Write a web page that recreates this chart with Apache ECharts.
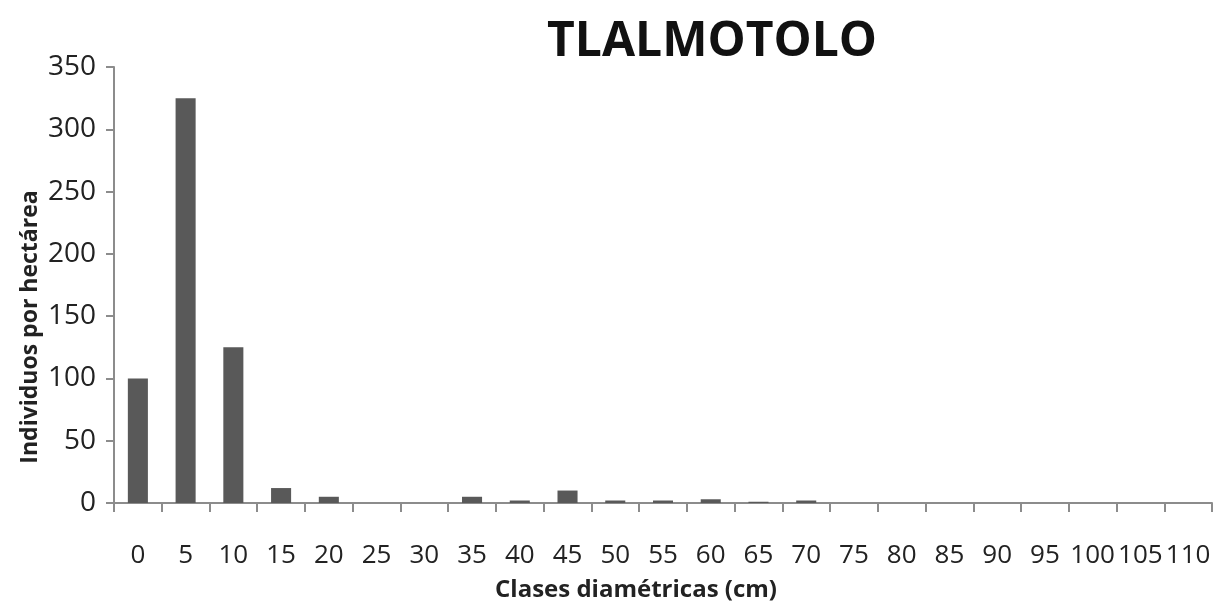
<!DOCTYPE html>
<html><head><meta charset="utf-8">
<script src="https://cdn.jsdelivr.net/npm/echarts@6/dist/echarts.min.js"></script>
<style>html,body{margin:0;padding:0;background:#fff}#c{width:1219px;height:605px}</style>
</head><body><div id="c"></div>
<script>
const title = "TLALMOTOLO";
const categories = ["0","5","10","15","20","25","30","35","40","45","50","55","60","65","70","75","80","85","90","95","100","105","110"];
const values = [100,325,125,12,5,0,0,5,2,10,2,2,3,1,2,0,0,0,0,0,0,0,0];
const yTicks = {min:0, max:350, interval:50};
const xName = "Clases diamétricas (cm)";
const yName = "Individuos por hectárea";

const font = "'Open Sans', 'Noto Sans', sans-serif";
const chart = echarts.init(document.getElementById('c'));
chart.setOption({
  animation:false,
  backgroundColor:'#fff',
  title:{text:title, left:707, top:13, textAlign:'center',
    textStyle:{fontFamily:font, fontWeight:'bold', fontSize:48, color:'#111'}},
  grid:{left:114, right:7, top:67, bottom:102, containLabel:false},
  graphic:[
    {type:'text', x:30, y:327, rotation:Math.PI/2,
      style:{text:yName, fontFamily:font, fontWeight:'bold', fontSize:23, fill:'#222',
        align:'center', verticalAlign:'middle'}, z:100},
    {type:'text', x:636, y:590,
      style:{text:xName, fontFamily:font, fontWeight:'bold', fontSize:24, fill:'#222',
        align:'center', verticalAlign:'middle'}, z:100}
  ],
  xAxis:{type:'category', data:categories, boundaryGap:true,
    axisLine:{lineStyle:{color:'#8c8c8c', width:2}},
    axisTick:{show:true, alignWithLabel:false, length:9, lineStyle:{color:'#8c8c8c', width:2}},
    axisLabel:{interval:0, fontFamily:font, fontSize:26, color:'#222', margin:40}},
  yAxis:{type:'value', min:yTicks.min, max:yTicks.max, interval:yTicks.interval,
    splitLine:{show:false},
    axisLine:{show:true, lineStyle:{color:'#8c8c8c', width:2}},
    axisTick:{show:true, length:8, lineStyle:{color:'#8c8c8c', width:2}},
    axisLabel:{fontFamily:font, fontSize:28, color:'#222', margin:18}},
  series:[{type:'bar', data:values, barWidth:'42%',
    itemStyle:{color:'#595959'}}]
});
</script></body></html>
